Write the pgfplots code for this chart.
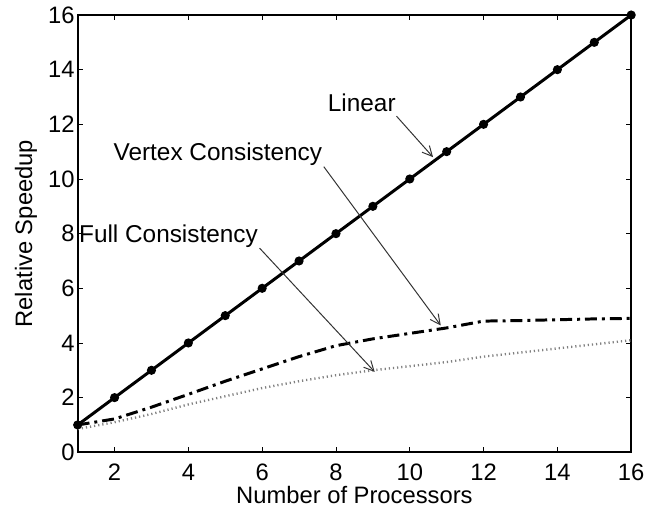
\documentclass[border=0pt]{standalone}
\usepackage{pgfplots}
\pgfplotsset{compat=1.18}
\usepackage{fontspec}
\setmainfont{Liberation Sans}
\usetikzlibrary{arrows.meta}

% Speedup measurements
\pgfplotstableread{
p   linear  vertex  full
1   1       1.00    0.85
2   2       1.22    1.10
3   3       1.65    1.40
4   4       2.12    1.75
5   5       2.60    2.05
6   6       3.05    2.35
7   7       3.50    2.60
8   8       3.90    2.82
9   9       4.15    3.00
10  10      4.35    3.15
11  11      4.55    3.30
12  12      4.80    3.50
13  13      4.82    3.65
14  14      4.85    3.80
15  15      4.88    3.95
16  16      4.90    4.10
}\speedup

\begin{document}
\begin{tikzpicture}
\begin{axis}[
  scale only axis,
  width=278.5bp, height=220bp,
  xmin=1, xmax=16, ymin=0, ymax=16,
  xtick={2,4,...,16}, ytick={0,2,...,16},
  tick align=inside,
  major tick length=2.5bp,
  tick style={black, line width=0.4bp},
  axis line style={black, line width=0.9bp},
  ticklabel style={font=\fontsize{12}{14}\selectfont},
  /pgf/number format/assume math mode=true,
  xticklabel style={yshift=-2.5bp},
  yticklabel style={xshift=2bp},
  xlabel={Number of Processors},
  ylabel={Relative Speedup},
  label style={font=\fontsize{12}{14}\selectfont},
  xlabel style={at={(rel axis cs:0.5,0)}, anchor=base, yshift=-26bp},
  ylabel style={at={(rel axis cs:0,0.5)}, anchor=center, yshift=26bp, inner ysep=7.5bp},
  clip=false,
]
\addplot[black, line width=1.5bp, mark=*, mark size=1.5bp] table[x=p, y=linear] {\speedup};
\addplot[black, line width=1.5bp, dash pattern=on 6bp off 2.5bp on 1.5bp off 2.5bp] table[x=p, y=vertex] {\speedup};
\addplot[black!50, line width=1.2bp, dash pattern=on 0.6bp off 1.5bp] table[x=p, y=full] {\speedup};

\node[font=\fontsize{12.3}{14}\selectfont] at (axis cs:8.70,12.8) {Linear};
\node[font=\fontsize{12.3}{14}\selectfont] at (axis cs:4.80,10.9) {Vertex Consistency};
\node[font=\fontsize{12.3}{14}\selectfont, anchor=west, inner xsep=0pt] at (axis cs:1.03,7.9) {Full Consistency};

\draw[black!80, line width=0.5bp, -{Straight Barb[length=5bp, width=5bp]}] (axis cs:9.64,12.30) -- (axis cs:10.63,10.80);
\draw[black!80, line width=0.5bp, -{Straight Barb[length=5bp, width=5bp]}] (axis cs:7.67,10.45) -- (axis cs:10.84,4.64);
\draw[black!80, line width=0.5bp, -{Straight Barb[length=5bp, width=5bp]}] (axis cs:5.93,7.47) -- (axis cs:9.05,2.94);
\end{axis}
\end{tikzpicture}
\end{document}
